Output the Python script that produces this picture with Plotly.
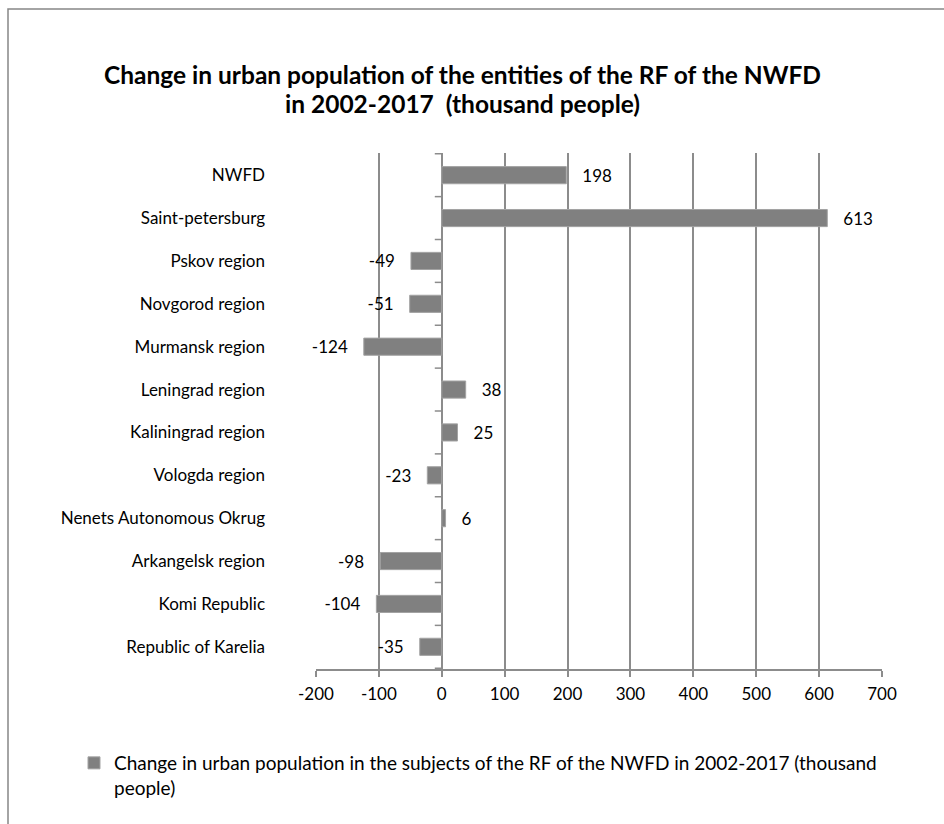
import plotly.graph_objects as go

# Urban population change 2002-2017, thousand people (top to bottom as shown)
regions = [
    "NWFD",
    "Saint-petersburg",
    "Pskov region",
    "Novgorod region",
    "Murmansk region",
    "Leningrad region",
    "Kaliningrad region",
    "Vologda region",
    "Nenets Autonomous Okrug",
    "Arkangelsk region",
    "Komi Republic",
    "Republic of Karelia",
]
change = [198, 613, -49, -51, -124, 38, 25, -23, 6, -98, -104, -35]

x_ticks = [-200, -100, 0, 100, 200, 300, 400, 500, 600, 700]

series_name = ("Change in urban population in the subjects of the RF of the NWFD in 2002-2017 (thousand"
               "<br>people)")
title_lines = [
    "Change in urban population of the entities of the RF of the NWFD",
    "in 2002-2017  (thousand people)",
]

FONT = "Lato"
GRID = "#8c8c8c"
BAR = "#808080"

W, H = 944, 824
ML, MR, MT, MB = 316, 62, 153, 155

pad = "\u00a0\u00a0\u00a0"
labels = [(pad + str(v)) if v >= 0 else (str(v) + pad) for v in change]

fig = go.Figure()
fig.add_trace(go.Bar(
    y=regions,
    x=change,
    orientation="h",
    name=series_name,
    marker=dict(color=BAR, line=dict(color="#a3a3a3", width=1)),
    width=0.4,
    text=labels,
    textposition="outside",
    constraintext="none",
    textfont=dict(family=FONT, size=17, color="#000000"),
    cliponaxis=False,
    showlegend=True,
))

pw, ph = W - ML - MR, H - MT - MB
def px_to_paper_x(px):
    return (px - ML) / pw
def px_to_paper_y(py):
    return (H - MB - py) / ph

# small tick marks on the zero axis at category boundaries
shapes = []
for i in range(len(regions) + 1):
    shapes.append(dict(
        type="line", xref="x", yref="y", xsizemode="pixel", xanchor=0,
        x0=-7, x1=0, y0=i - 0.5, y1=i - 0.5,
        line=dict(color=GRID, width=1.5),
    ))

# outer chart frame
shapes.append(dict(
    type="rect", xref="paper", yref="paper",
    x0=px_to_paper_x(8), x1=px_to_paper_x(W + 10),
    y0=px_to_paper_y(H + 10), y1=px_to_paper_y(9),
    line=dict(color="#868686", width=1.5), fillcolor="rgba(0,0,0,0)", layer="below",
))

# two-line bold title
annotations = []
for line, cy in zip(title_lines, [75, 103]):
    annotations.append(dict(
        text=f"<b>{line}</b>", xref="paper", yref="paper",
        x=px_to_paper_x(462), y=px_to_paper_y(cy),
        xanchor="center", yanchor="middle", showarrow=False,
        font=dict(family=FONT, size=24.5, color="#000000"),
    ))

fig.update_layout(
    width=W, height=H,
    margin=dict(l=ML, r=MR, t=MT, b=MB),
    paper_bgcolor="white", plot_bgcolor="white",
    font=dict(family=FONT, size=17, color="#000000"),
    shapes=shapes,
    annotations=annotations,
    bargap=0.6,
    legend=dict(orientation="h", x=px_to_paper_x(74), xanchor="left",
                y=px_to_paper_y(744), yanchor="top", valign="top",
                font=dict(family=FONT, size=19, color="#000000"),
                bgcolor="rgba(0,0,0,0)"),
    showlegend=True,
)

fig.update_xaxes(
    range=[-200, 700], tickvals=x_ticks, ticktext=[str(t) for t in x_ticks],
    showgrid=True, gridcolor=GRID, gridwidth=1.5,
    zeroline=True, zerolinecolor=GRID, zerolinewidth=1.5,
    showline=True, linecolor=GRID, linewidth=1.5,
    ticks="outside", ticklen=6, tickcolor=GRID, tickwidth=1.5,
    ticklabelstandoff=3,
    tickfont=dict(family=FONT, size=17), fixedrange=True,
)
fig.update_yaxes(
    categoryorder="array", categoryarray=regions, autorange="reversed",
    showgrid=False, zeroline=False, showline=False, ticks="",
    ticklabelstandoff=50,
    tickfont=dict(family=FONT, size=17), fixedrange=True,
)

fig.write_html("out.html")
